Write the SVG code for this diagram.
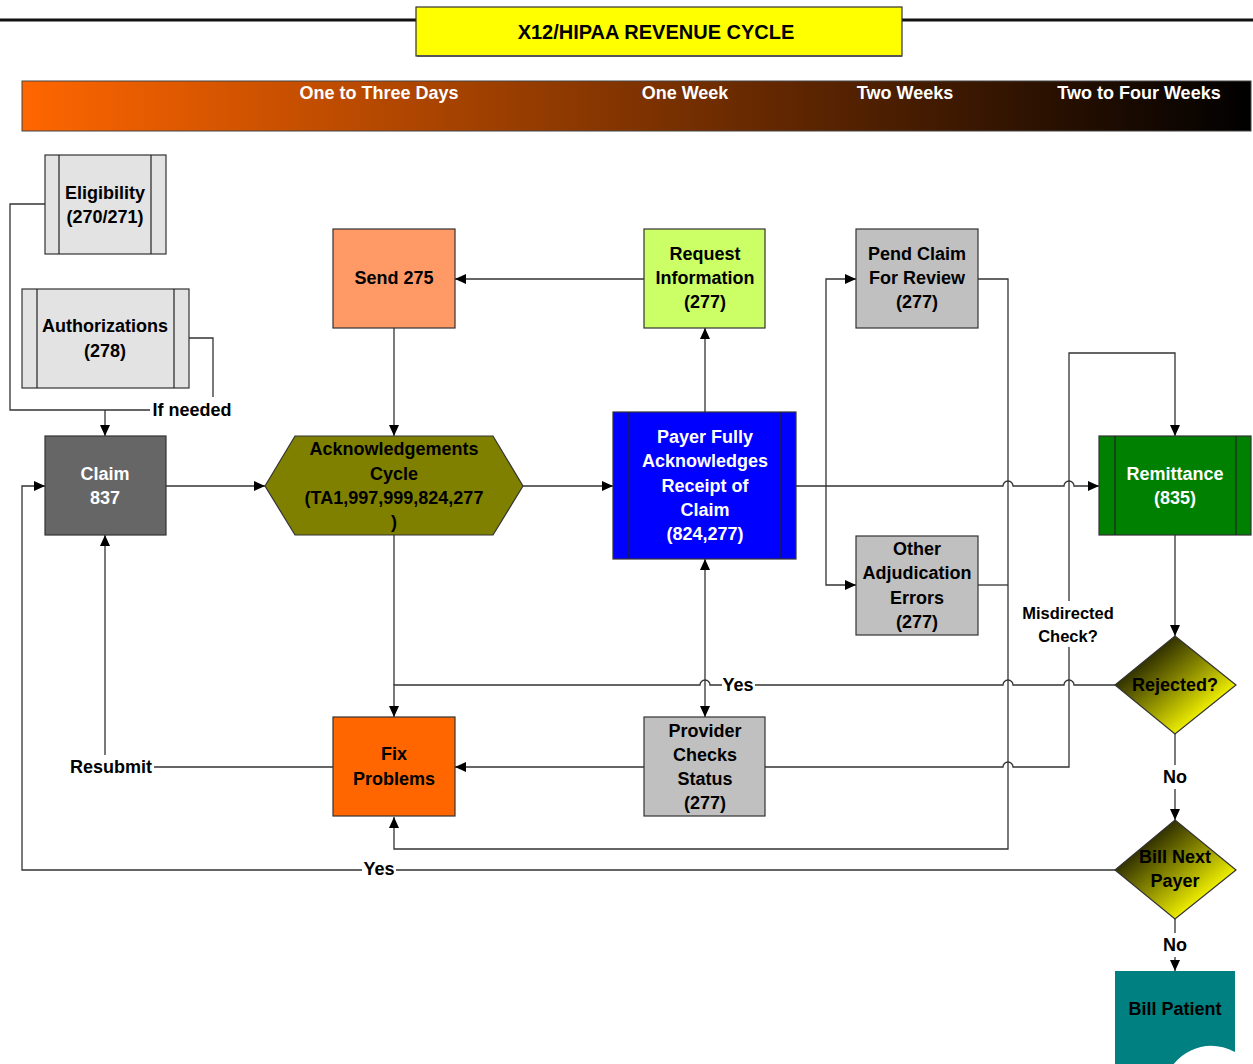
<svg xmlns="http://www.w3.org/2000/svg" width="1253" height="1064" viewBox="0 0 1253 1064">
<defs>
<linearGradient id="tl" x1="0" y1="0" x2="1" y2="0">
<stop offset="0" stop-color="#FF6600"/>
<stop offset="1" stop-color="#000000"/>
</linearGradient>
<linearGradient id="dia" x1="0" y1="0" x2="1" y2="1">
<stop offset="0.25" stop-color="#333300"/>
<stop offset="0.5" stop-color="#8C8C00"/>
<stop offset="0.8" stop-color="#FFFF00"/>
</linearGradient>
<marker id="ah" markerUnits="userSpaceOnUse" markerWidth="12" markerHeight="10" refX="11" refY="5" orient="auto-start-reverse">
<path d="M0,0 L11,5 L0,10 Z" fill="#000"/>
</marker>
<style>
.t{font-family:"Liberation Sans",Arial,sans-serif;font-weight:bold;font-size:18px;text-anchor:middle;dominant-baseline:central;fill:#000}
.w{fill:#fff}
.c{fill:none;stroke:#333;stroke-width:1.3}
.a{marker-end:url(#ah)}
.n{stroke:#333;stroke-width:1.2}
.bar{fill:none;stroke:#222;stroke-width:1.2}
.bg{fill:#fff}
</style>
</defs>
<rect width="1253" height="1064" fill="#fff"/>
<g id="title">
<line x1="0" y1="20" x2="1253" y2="20" stroke="#111" stroke-width="3"/>
<rect x="416" y="7" width="486" height="49" fill="#FFFF00" stroke="#333" stroke-width="1.2"/>
<line x1="417" y1="56" x2="902" y2="56" stroke="#555" stroke-width="2"/>
<text class="t" x="656" y="32" style="font-size:20px">X12/HIPAA REVENUE CYCLE</text>
</g>
<g id="timeline">
<rect x="22" y="81" width="1229" height="50" fill="url(#tl)" stroke="#444" stroke-width="1"/>
<text class="t w" x="379" y="93">One to Three Days</text>
<text class="t w" x="685" y="93">One Week</text>
<text class="t w" x="905" y="93">Two Weeks</text>
<text class="t w" x="1139" y="93">Two to Four Weeks</text>
</g>
<g id="connectors">
<path class="c" d="M45,204 H10 V410 H150"/>
<path class="c" d="M189,338 H213 V397"/>
<path class="c a" d="M105,410 V436"/>
<path class="c a" d="M166,486 H265"/>
<path class="c a" d="M523,486 H613"/>
<path class="c a" d="M705,412 V328"/>
<path class="c a" d="M644,279 H455"/>
<path class="c a" d="M394,328 V436"/>
<path class="c a" d="M796,486 H1003 a5,5 0 0 1 10,0 H1064 a5,5 0 0 1 10,0 H1099"/>
<path class="c a" d="M826,486 V279 H856"/>
<path class="c a" d="M826,486 V585 H856"/>
<path class="c a" d="M978,279 H1008 V849 H394 V817"/>
<path class="c" d="M978,585 H1008"/>
<path class="c a" d="M765,767 H1003 a5,5 0 0 1 10,0 H1069 V353 H1175 V436"/>
<path class="c a" d="M1175,535 V636"/>
<path class="c a" d="M1115,685 H1074 a5,5 0 0 0 -10,0 H1013 a5,5 0 0 0 -10,0 H710 a5,5 0 0 0 -10,0 H394 V717"/>
<path class="c" d="M394,535 V685"/>
<path class="c a" d="M705,559 V717" marker-start="url(#ah)"/>
<path class="c a" d="M644,767 H455"/>
<path class="c a" d="M333,767 H105 V535"/>
<path class="c a" d="M1175,734 V820"/>
<path class="c a" d="M1115,870 H22 V486 H45"/>
<path class="c a" d="M1175,919 V971"/>
<rect class="bg" x="1018" y="601" width="102" height="46"/>
<text class="t" x="1068" y="613" style="font-size:16.5px">Misdirected</text>
<text class="t" x="1068" y="636" style="font-size:16.5px">Check?</text>
<text class="t" x="192" y="410">If needed</text>
<rect class="bg" x="722" y="675" width="33" height="20"/>
<text class="t" x="738" y="685">Yes</text>
<rect class="bg" x="68" y="755" width="86" height="24"/>
<text class="t" x="111" y="767">Resubmit</text>
<rect class="bg" x="362" y="859" width="34" height="21"/>
<text class="t" x="379" y="869">Yes</text>
<rect class="bg" x="1160" y="765" width="30" height="24"/>
<text class="t" x="1175" y="777">No</text>
<rect class="bg" x="1160" y="933" width="30" height="24"/>
<text class="t" x="1175" y="945">No</text>
</g>
<g id="eligibility">
<rect class="n" x="45" y="155" width="121" height="99" fill="#E3E3E3"/>
<line class="bar" x1="59" y1="155" x2="59" y2="254"/>
<line class="bar" x1="151" y1="155" x2="151" y2="254"/>
<text class="t" x="105" y="193">Eligibility</text>
<text class="t" x="105" y="217">(270/271)</text>
</g>
<g id="authorizations">
<rect class="n" x="22" y="289" width="167" height="99" fill="#E3E3E3"/>
<line class="bar" x1="37" y1="289" x2="37" y2="388"/>
<line class="bar" x1="174" y1="289" x2="174" y2="388"/>
<text class="t" x="105" y="326">Authorizations</text>
<text class="t" x="105" y="351">(278)</text>
</g>
<g id="claim">
<rect class="n" x="45" y="436" width="121" height="99" fill="#666666"/>
<text class="t w" x="105" y="474">Claim</text>
<text class="t w" x="105" y="498">837</text>
</g>
<g id="ack">
<polygon class="n" points="265,486 295,436 493,436 523,486 493,535 295,535" fill="#808000"/>
<text class="t" x="394" y="449">Acknowledgements</text>
<text class="t" x="394" y="474">Cycle</text>
<text class="t" x="394" y="498">(TA1,997,999,824,277</text>
<text class="t" x="394" y="522">)</text>
</g>
<g id="send275">
<rect class="n" x="333" y="229" width="122" height="99" fill="#FF9966"/>
<text class="t" x="394" y="278">Send 275</text>
</g>
<g id="request">
<rect class="n" x="644" y="229" width="121" height="99" fill="#CCFF66"/>
<text class="t" x="705" y="254">Request</text>
<text class="t" x="705" y="278">Information</text>
<text class="t" x="705" y="302">(277)</text>
</g>
<g id="payer">
<rect class="n" x="613" y="412" width="183" height="147" fill="#0000FF"/>
<line class="bar" x1="629" y1="412" x2="629" y2="559"/>
<line class="bar" x1="780" y1="412" x2="780" y2="559"/>
<text class="t w" x="705" y="437">Payer Fully</text>
<text class="t w" x="705" y="461">Acknowledges</text>
<text class="t w" x="705" y="486">Receipt of</text>
<text class="t w" x="705" y="510">Claim</text>
<text class="t w" x="705" y="534">(824,277)</text>
</g>
<g id="pend">
<rect class="n" x="856" y="229" width="122" height="99" fill="#C0C0C0"/>
<text class="t" x="917" y="254">Pend Claim</text>
<text class="t" x="917" y="278">For Review</text>
<text class="t" x="917" y="302">(277)</text>
</g>
<g id="other">
<rect class="n" x="856" y="536" width="122" height="99" fill="#C0C0C0"/>
<text class="t" x="917" y="549">Other</text>
<text class="t" x="917" y="573">Adjudication</text>
<text class="t" x="917" y="598">Errors</text>
<text class="t" x="917" y="622">(277)</text>
</g>
<g id="remittance">
<rect class="n" x="1099" y="436" width="152" height="99" fill="#008000"/>
<line class="bar" x1="1115" y1="436" x2="1115" y2="535"/>
<line class="bar" x1="1236" y1="436" x2="1236" y2="535"/>
<text class="t w" x="1175" y="474">Remittance</text>
<text class="t w" x="1175" y="498">(835)</text>
</g>
<g id="rejected">
<polygon class="n" points="1175,636 1236,685 1175,734 1115,685" fill="url(#dia)"/>
<text class="t" x="1175" y="685">Rejected?</text>
</g>
<g id="billnext">
<polygon class="n" points="1175,820 1236,870 1175,919 1115,870" fill="url(#dia)"/>
<text class="t" x="1175" y="857">Bill Next</text>
<text class="t" x="1175" y="881">Payer</text>
</g>
<g id="billpatient">
<path d="M1115,971 H1235 V1052 C1212,1040 1188,1046 1172,1066 C1155,1084 1130,1082 1115,1074 Z" fill="#008080"/>
<text class="t" x="1175" y="1009">Bill Patient</text>
</g>
<g id="fix">
<rect class="n" x="333" y="717" width="122" height="99" fill="#FF6600"/>
<text class="t" x="394" y="754">Fix</text>
<text class="t" x="394" y="779">Problems</text>
</g>
<g id="provider">
<rect class="n" x="644" y="717" width="121" height="99" fill="#C0C0C0"/>
<text class="t" x="705" y="731">Provider</text>
<text class="t" x="705" y="755">Checks</text>
<text class="t" x="705" y="779">Status</text>
<text class="t" x="705" y="803">(277)</text>
</g>
</svg>
